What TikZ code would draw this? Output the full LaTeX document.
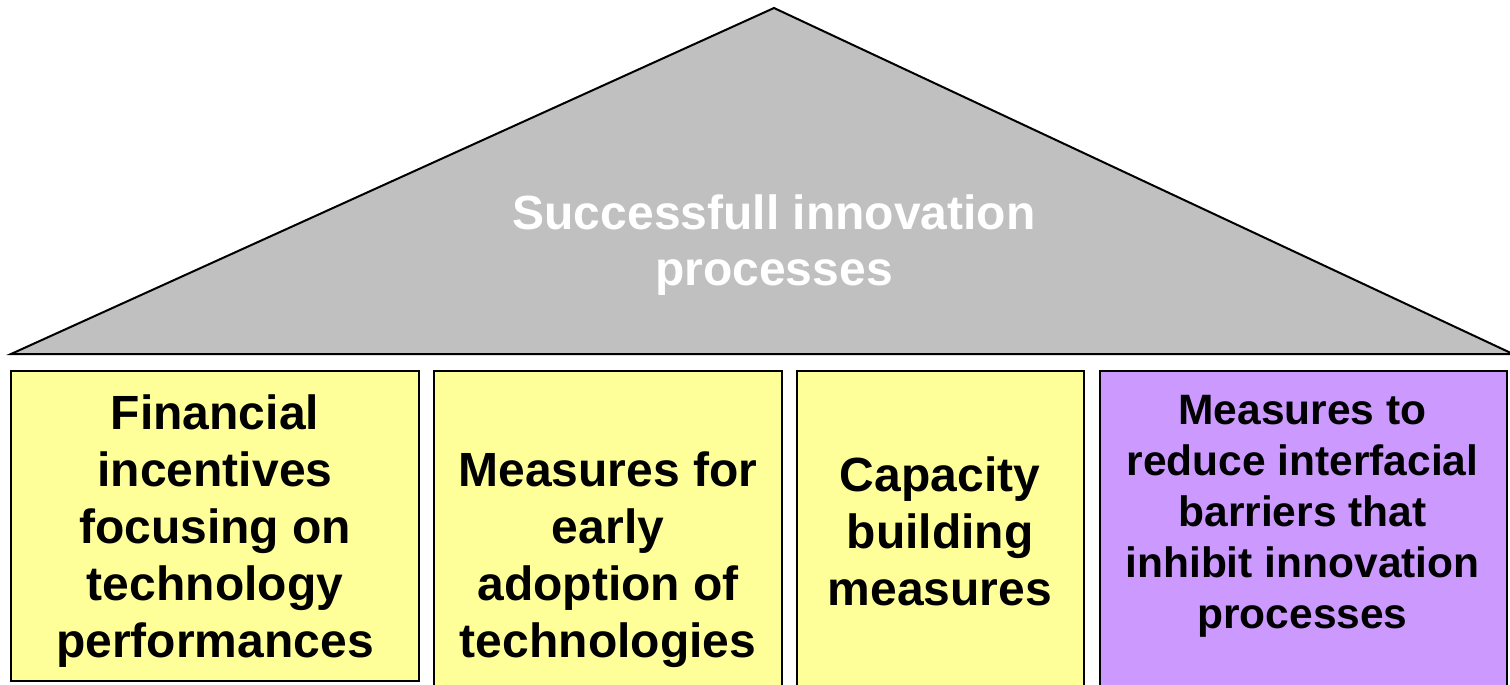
\documentclass[tikz,border=0pt]{standalone}
\usepackage{fontspec}
\setmainfont{Liberation Sans}
\definecolor{roofgray}{HTML}{C0C0C0}
\definecolor{yel}{HTML}{FFFF99}
\definecolor{lil}{HTML}{CC99FF}
\begin{document}
\begin{tikzpicture}[x=1pt,y=-1pt,
  box/.style={draw=black, line width=1.8pt, inner sep=0pt},
  lbl/.style={font=\bfseries\fontsize{48}{57}\selectfont, align=center, inner sep=0pt},
  lblsmall/.style={font=\bfseries\fontsize{42.5}{51}\selectfont, align=center, inner sep=0pt},
  ttl/.style={font=\bfseries\fontsize{48}{56}\selectfont, align=center, inner sep=0pt, text=white}]
\useasboundingbox (0,0) rectangle (1510,685);
\clip (0,0) rectangle (1510,685);
\fill[white] (0,0) rectangle (1510,685);
\draw[fill=roofgray, line width=2pt, line join=miter] (11,354) -- (774,8) -- (1513,354) -- cycle;
\node[ttl] (roof) at (774,245) {Successfull innovation\\processes};
\node[box, fill=yel, minimum width=408pt, minimum height=310pt] (b1) at (215,526) {};
\node[box, fill=yel, minimum width=348pt, minimum height=389pt] (b2) at (608,565.5) {};
\node[box, fill=yel, minimum width=287pt, minimum height=389pt] (b3) at (940.5,565.5) {};
\node[box, fill=lil, minimum width=407pt, minimum height=389pt] (b4) at (1303.5,565.5) {};
\node[lbl] (t1) at (215,531) {Financial\\incentives\\focusing on\\technology\\performances};
\node[lbl] (t2) at (608,560) {Measures for\\early\\adoption of\\technologies};
\node[lbl] (t3) at (940,531) {Capacity\\building\\measures};
\node[lblsmall] (t4) at (1302.5,516) {Measures to\\reduce interfacial\\barriers that\\inhibit innovation\\processes};
\end{tikzpicture}
\end{document}
